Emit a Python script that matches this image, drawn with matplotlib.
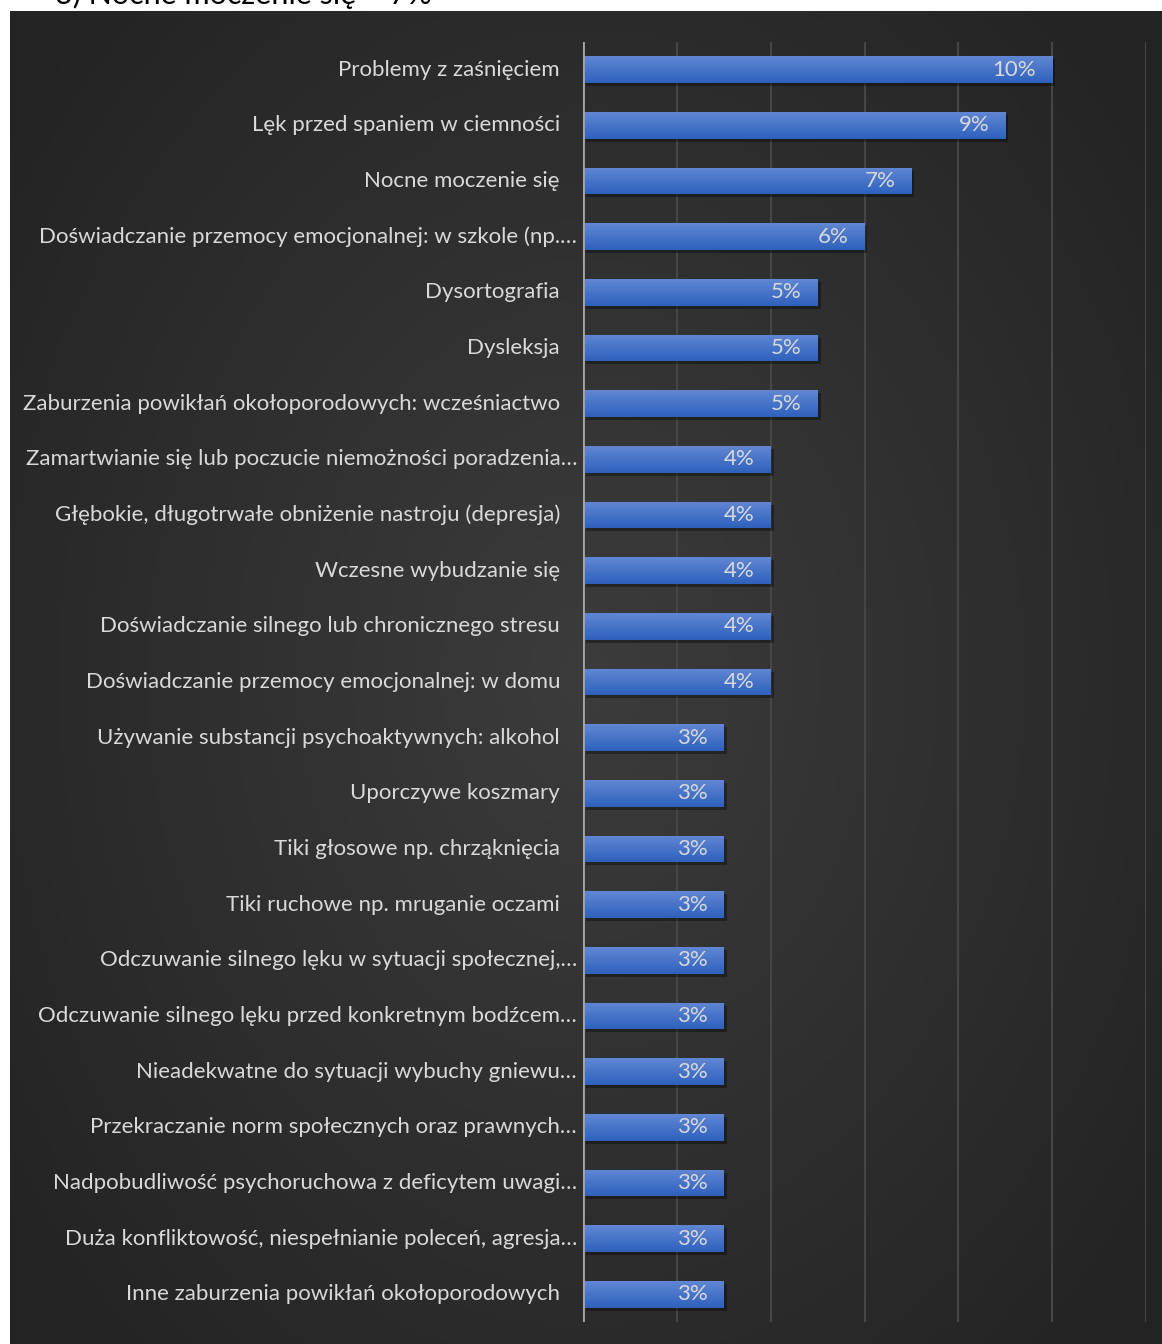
import numpy as np
import matplotlib.pyplot as plt
from matplotlib import transforms

plt.rcParams['font.family'] = ['Lato', 'DejaVu Sans']

labels = [
    'Problemy z zaśnięciem',
    'Lęk przed spaniem w ciemności',
    'Nocne moczenie się',
    'Doświadczanie przemocy emocjonalnej: w szkole (np.…',
    'Dysortografia',
    'Dysleksja',
    'Zaburzenia powikłań okołoporodowych: wcześniactwo',
    'Zamartwianie się lub poczucie niemożności poradzenia…',
    'Głębokie, długotrwałe obniżenie nastroju (depresja)',
    'Wczesne wybudzanie się',
    'Doświadczanie silnego lub chronicznego stresu',
    'Doświadczanie przemocy emocjonalnej: w domu',
    'Używanie substancji psychoaktywnych: alkohol',
    'Uporczywe koszmary',
    'Tiki głosowe np. chrząknięcia',
    'Tiki ruchowe np. mruganie oczami',
    'Odczuwanie silnego lęku w sytuacji społecznej,…',
    'Odczuwanie silnego lęku przed konkretnym bodźcem…',
    'Nieadekwatne do sytuacji wybuchy gniewu…',
    'Przekraczanie norm społecznych oraz prawnych…',
    'Nadpobudliwość psychoruchowa z deficytem uwagi…',
    'Duża konfliktowość, niespełnianie poleceń, agresja…',
    'Inne zaburzenia powikłań okołoporodowych',
]
values = [10, 9, 7, 6, 5, 5, 5, 4, 4, 4, 4, 4, 3, 3, 3, 3, 3, 3, 3, 3, 3, 3, 3]
header = '3) Nocne moczenie się – 7%'

W, H = 1162, 1344
fig = plt.figure(figsize=(W / 100, H / 100), dpi=100)
fig.patch.set_facecolor('white')

# dark panel with radial gradient
bg = fig.add_axes([10 / W, 0, (W - 10) / W, (H - 11) / H])
bg.set_axis_off()
yy, xx = np.mgrid[-1:1:300j, -1:1:300j]
r = np.sqrt((xx * 0.9) ** 2 + (yy * 0.8) ** 2)
shade = np.clip(0.235 - 0.085 * r, 0.14, 0.25)
bg.imshow(np.dstack([shade] * 3), aspect='auto', extent=[0, 1, 0, 1])
bg.set_xlim(0, 1)
bg.set_ylim(0, 1)

fig.text(55 / W, 1 - 4 / H, header, fontsize=22, color='black',
         va='baseline', ha='left')

ax = fig.add_axes([583 / W, 1 - 1322 / H, (1146 - 583) / W, (1322 - 42) / H])
ax.patch.set_alpha(0)
y = np.arange(len(labels))

# shadows
shadow_dx = 3 / 47.0
shadow_dy = 3 / 55.7
ax.barh(y + shadow_dy, values, left=shadow_dx, height=0.48,
        color='black', alpha=0.35, zorder=2)
bars = ax.barh(y, values, height=0.48, color='#4472c4', zorder=3)

grad = np.linspace(0, 1, 64).reshape(-1, 1)
top = np.array([0.38, 0.53, 0.83])
bot = np.array([0.18, 0.38, 0.74])
img = top + (bot - top) * grad[..., None]
for b in bars:
    x0, y0, w, h = b.get_x(), b.get_y(), b.get_width(), b.get_height()
    im = ax.imshow(img, aspect='auto', extent=[x0, x0 + w, y0 + h, y0],
                   zorder=4)
    im.set_clip_path(b)

for yi, v in zip(y, values):
    ax.text(v, yi, '%d%%' % v, ha='right', va='center', color='#d9d9d9',
            fontsize=16, zorder=5,
            transform=ax.transData + transforms.ScaledTranslation(-16 / 100, 0, fig.dpi_scale_trans))

for yi, lab in zip(y, labels):
    off = -6 if lab.endswith('…') else -23
    tr = transforms.blended_transform_factory(ax.transAxes, ax.transData) + \
        transforms.ScaledTranslation(off / 100, 0, fig.dpi_scale_trans)
    ax.text(0, yi, lab, ha='right', va='center', color='#d9d9d9',
            fontsize=16, transform=tr)

ax.set_xlim(0, 12)
ax.set_ylim(len(labels) - 0.5, -0.5)
ax.set_xticks(np.arange(2, 13, 2))
ax.grid(axis='x', color='#464646', linewidth=1.5, zorder=1)
ax.set_axisbelow(True)
ax.axvline(0, color='#a6a6a6', linewidth=2, zorder=6)
ax.tick_params(left=False, bottom=False, labelleft=False, labelbottom=False)
for s in ax.spines.values():
    s.set_visible(False)

fig.savefig('out.png', dpi=100)
